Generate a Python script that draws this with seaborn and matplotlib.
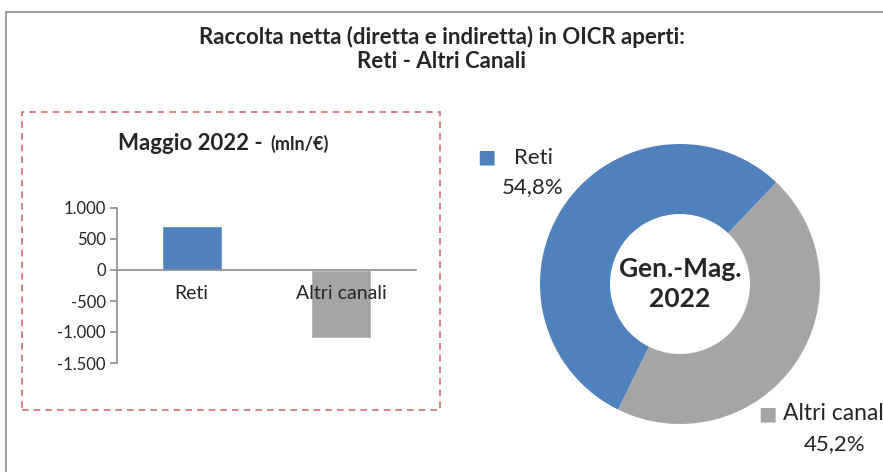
import seaborn as sns
import matplotlib.pyplot as plt
import numpy as np
import pandas as pd
from matplotlib.patches import Rectangle

# data
channels = ['Reti', 'Altri canali']
may_flows = [710, -1090]          # mln/€, Maggio 2022
ytd_share = [54.8, 45.2]          # %, Gen.-Mag. 2022
pie_labels = ['Reti', 'Altri canal']
colors = ['#4F81BD', '#A5A5A5']
yticks = [1000, 500, 0, -500, -1000, -1500]

sns.set_theme(style='white')
plt.rcParams['font.family'] = ['Lato', 'DejaVu Sans']

W, H = 883, 472
fig = plt.figure(figsize=(W / 100, H / 100), dpi=100)

# outer frame and dashed box
fig.patches.append(Rectangle((6 / W, -0.1), 1.1, (H - 12) / H + 0.1, transform=fig.transFigure,
                             fill=False, edgecolor='#8c8c8c', lw=1.2))
fig.patches.append(Rectangle((22 / W, (H - 410) / H), 418 / W, 298 / H, transform=fig.transFigure,
                             fill=False, edgecolor='#d07070', lw=1.2, ls=(0, (4, 3))))

fig.text(442 / W, 1 - 37 / H, 'Raccolta netta (diretta e indiretta) in OICR aperti:',
         ha='center', va='center', fontsize=16, fontweight='bold')
fig.text(442 / W, 1 - 62 / H, 'Reti - Altri Canali',
         ha='center', va='center', fontsize=16, fontweight='bold')

# bar chart
ax = fig.add_axes([117 / W, (H - 363) / H, 299 / W, 155 / H])
df = pd.DataFrame({'canale': channels, 'valore': may_flows})
sns.barplot(data=df, x='canale', y='valore', hue='canale', palette=colors,
            width=0.4, saturation=1, legend=False, ax=ax)
ax.set_axisbelow(False)
ax.set_ylim(-1500, 1000)
ax.set_xlim(-0.5, len(channels) - 0.5)
ax.set_yticks(yticks)
ax.set_yticklabels([f'{v:,}'.replace(',', '.') for v in yticks], fontsize=12)
ax.set_xlabel('')
ax.set_ylabel('')
for s in ['top', 'right']:
    ax.spines[s].set_visible(False)
ax.spines['bottom'].set_position(('data', 0))
for s in ['left', 'bottom']:
    ax.spines[s].set_color('#8c8c8c')
    ax.spines[s].set_linewidth(1.2)
ax.set_xticks(np.arange(-0.5, len(channels)), minor=True)
ax.tick_params(axis='x', which='major', length=0, labelsize=14, pad=11)
ax.tick_params(axis='x', which='minor', length=5, width=1.2, color='#8c8c8c', direction='out')
ax.tick_params(axis='y', length=5, width=1.2, color='#8c8c8c', direction='out', left=True, pad=3)
ax.patch.set_alpha(0)

fig.text(268 / W, 1 - 143 / H, 'Maggio 2022 - ', ha='right', va='center',
         fontsize=16, fontweight='bold')
fig.text(270 / W, 1 - 144 / H, '(mln/€)', ha='left', va='center',
         fontsize=13, fontweight='bold')

# donut
pax = fig.add_axes([540 / W, (H - 424) / H, 280 / W, 280 / H])
pax.pie(ytd_share, colors=colors, startangle=46.5, counterclock=True,
        radius=1, wedgeprops=dict(width=0.5, edgecolor='none'))
pax.set_xlim(-1, 1)
pax.set_ylim(-1, 1)
pax.text(0, 0, 'Gen.-Mag.\n2022', ha='center', va='center',
         fontsize=19, fontweight='bold', linespacing=1.3)

# data labels with legend keys
fig.text(486 / W, 1 - 157 / H, '■', color=colors[0], ha='center', va='center', fontsize=14,
         family='DejaVu Sans')
fig.text(514 / W, 1 - 158 / H, pie_labels[0], ha='left', va='center', fontsize=16)
fig.text(533 / W, 1 - 187 / H, f'{ytd_share[0]:.1f}%'.replace('.', ','),
         ha='center', va='center', fontsize=16)
fig.text(767 / W, 1 - 414 / H, '■', color=colors[1], ha='center', va='center', fontsize=14,
         family='DejaVu Sans')
fig.text(783 / W, 1 - 414 / H, pie_labels[1], ha='left', va='center', fontsize=16.5)
fig.text(835 / W, 1 - 444 / H, f'{ytd_share[1]:.1f}%'.replace('.', ','),
         ha='center', va='center', fontsize=16)

fig.savefig('out.png', dpi=100)
